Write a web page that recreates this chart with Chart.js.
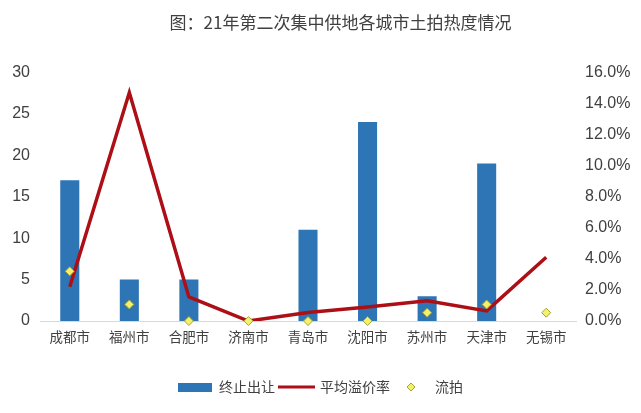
<!DOCTYPE html>
<html>
<head>
<meta charset="utf-8">
<script src="https://cdn.jsdelivr.net/npm/chart.js@4.4.1/dist/chart.umd.min.js"></script>
<style>
  html, body { margin: 0; padding: 0; background: #fff; }
  #wrap { width: 641px; height: 413px; }
</style>
</head>
<body>
<div id="wrap"><canvas id="landChart"></canvas></div>
<script>
// Chart data
const cities = ['成都市', '福州市', '合肥市', '济南市', '青岛市', '沈阳市', '苏州市', '天津市', '无锡市'];
const stopped = [17, 5, 5, 0, 11, 24, 3, 19, 0];            // 终止出让 (宗)
const premiumRate = [2.2, 14.7, 1.55, 0, 0.55, 0.9, 1.3, 0.65, 4.1]; // 平均溢价率 (%)
const failed = [6, 2, 0, 0, 0, 0, 1, 2, 1];                 // 流拍 (宗)

const barColor = '#2e75b6';
const lineColor = '#ad0f17';
const diamondFill = '#f5f06a';
const diamondBorder = '#a3a33a';
const textColor = '#404040';
const cjkFont = '"Noto Sans CJK SC", "Noto Sans", sans-serif';
const numFont = '"Liberation Sans", Arial, sans-serif';

// Small canvases used as legend symbols
function makeSymbol(w, h, draw) {
    const c = document.createElement('canvas');
    c.width = w;
    c.height = h;
    draw(c.getContext('2d'));
    return c;
}
const barSymbol = makeSymbol(34, 9, g => { g.fillStyle = barColor; g.fillRect(0, 0, 34, 9); });
const lineSymbol = makeSymbol(37, 4, g => { g.fillStyle = lineColor; g.fillRect(0, 0.5, 37, 3); });
const diamondSymbol = makeSymbol(10, 10, g => {
    g.beginPath();
    g.moveTo(5, 1); g.lineTo(9, 5); g.lineTo(5, 9); g.lineTo(1, 5); g.closePath();
    g.fillStyle = diamondFill; g.fill();
    g.strokeStyle = diamondBorder; g.lineWidth = 1; g.stroke();
});
const legendSymbols = [barSymbol, lineSymbol, diamondSymbol];

// The title sits a little right of centre in the original.
const titleShift = {
    id: 'titleShift',
    afterLayout(chart) {
        if (chart.titleBlock) {
            chart.titleBlock.left += 20;
            chart.titleBlock.right += 20;
        }
    }
};

const ctx = document.getElementById('landChart').getContext('2d');
window.myChart = new Chart(ctx, {
    data: {
        labels: cities,
        datasets: [{
            type: 'bar',
            label: '终止出让',
            data: stopped,
            backgroundColor: barColor,
            categoryPercentage: 1.0,
            barPercentage: 0.32,
            yAxisID: 'y',
            order: 2
        }, {
            type: 'line',
            label: '平均溢价率',
            data: premiumRate,
            borderColor: lineColor,
            borderWidth: 3.5,
            pointRadius: 0,
            tension: 0,
            fill: false,
            yAxisID: 'y1',
            order: 1
        }, {
            type: 'line',
            label: '流拍',
            data: failed,
            showLine: false,
            pointStyle: 'rectRot',
            pointRadius: 4.5,
            pointBackgroundColor: diamondFill,
            pointBorderColor: diamondBorder,
            pointBorderWidth: 1,
            yAxisID: 'y',
            clip: false,
            order: 0
        }]
    },
    plugins: [titleShift],
    options: {
        responsive: true,
        maintainAspectRatio: false,
        animation: false,
        layout: { padding: { left: 0, right: 0, top: 0, bottom: 9 } },
        plugins: {
            title: {
                display: true,
                text: '图：21年第二次集中供地各城市土拍热度情况',
                color: textColor,
                font: { family: cjkFont, size: 17, weight: 'normal' },
                padding: { top: 12, bottom: 40 }
            },
            legend: {
                position: 'bottom',
                labels: {
                    usePointStyle: true,
                    pointStyleWidth: 34,
                    padding: 4,
                    color: textColor,
                    font: { family: cjkFont, size: 14 },
                    generateLabels: function (chart) {
                        return chart.data.datasets.map((ds, i) => ({
                            text: ds.label,
                            datasetIndex: i,
                            pointStyle: legendSymbols[i],
                            fillStyle: 'transparent',
                            strokeStyle: 'transparent',
                            lineWidth: 0,
                            fontColor: textColor,
                            hidden: !chart.isDatasetVisible(i)
                        }));
                    }
                }
            },
            tooltip: { enabled: false }
        },
        scales: {
            x: {
                grid: { display: false, drawTicks: false },
                border: { display: true, color: '#d9d9d9', width: 1 },
                ticks: {
                    color: textColor,
                    padding: 8,
                    maxRotation: 0,
                    font: { family: cjkFont, size: 13.5 }
                },
                afterFit: function (scale) { scale.height = 55; }
            },
            y: {
                position: 'left',
                min: 0,
                max: 30,
                grid: { display: false, drawTicks: false },
                border: { display: false },
                ticks: {
                    stepSize: 5,
                    color: textColor,
                    padding: 10,
                    font: { family: numFont, size: 16 }
                },
                afterFit: function (scale) { scale.width = 40; }
            },
            y1: {
                position: 'right',
                min: 0,
                max: 16,
                grid: { display: false, drawTicks: false },
                border: { display: false },
                ticks: {
                    stepSize: 2,
                    color: textColor,
                    padding: 9,
                    font: { family: numFont, size: 16 },
                    callback: value => value.toFixed(1) + '%'
                },
                afterFit: function (scale) { scale.width = 65; }
            }
        }
    }
});
</script>
</body>
</html>
